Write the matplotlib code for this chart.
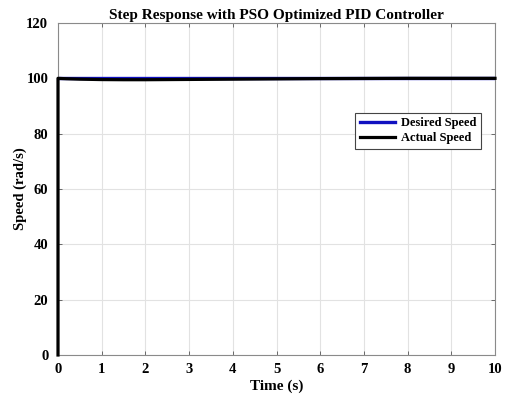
import matplotlib
matplotlib.use("Agg")
import matplotlib.pyplot as plt

# Step response data
time_desired = [0.0, 10.0]
speed_desired = [100.0, 100.0]

time_actual = [0.0, 0.0, 0.05, 0.2, 0.5, 1.0, 1.5, 2.0, 3.0, 4.0, 5.0, 6.0, 7.0, 8.0, 10.0]
speed_actual = [0.0, 100.0, 99.95, 99.85, 99.7, 99.55, 99.5, 99.5, 99.6, 99.7, 99.8, 99.9, 99.95, 100.0, 100.0]

x_ticks = list(range(0, 11))
y_ticks = [0, 20, 40, 60, 80, 100, 120]

plt.rcParams["font.family"] = ["Liberation Serif", "DejaVu Serif"]
plt.rcParams["font.weight"] = "bold"

fig = plt.figure(figsize=(5.05, 3.94), dpi=100)
ax = fig.add_axes([58 / 505, 1 - 355 / 394, (495 - 58) / 505, (355 - 23) / 394])

ax.plot(time_desired, speed_desired, color="#1010c0", lw=2.4, label="Desired Speed")
ax.plot(time_actual, speed_actual, color="black", lw=2.3, label="Actual Speed",
        clip_on=False, zorder=3)

ax.set_xlim(0, 10)
ax.set_ylim(0, 120)
ax.set_xticks(x_ticks)
ax.set_yticks(y_ticks)
ax.grid(True, color="#e2e2e2", lw=0.8)
ax.set_axisbelow(True)
ax.tick_params(direction="in", top=True, right=True, length=3, width=0.6,
               color="#555555", labelsize=10.5)
ax.tick_params(axis="x", pad=6)
ax.tick_params(axis="y", pad=7)
for lbl in ax.get_xticklabels() + ax.get_yticklabels():
    lbl.set_fontweight("bold")
for s in ax.spines.values():
    s.set_color("#8a8a8a")
    s.set_linewidth(0.8)

ax.set_title("Step Response with PSO Optimized PID Controller",
             fontsize=11, fontweight="bold", pad=3)
ax.set_xlabel("Time (s)", fontsize=11, fontweight="bold", labelpad=2)
ax.set_ylabel("Speed (rad/s)", fontsize=10.5, fontweight="bold")
ax.yaxis.set_label_coords(-0.072, 0.5)

leg = ax.legend(loc="upper left", bbox_to_anchor=(0.666, 0.748),
                prop={"weight": "bold", "size": 9}, handlelength=2.8,
                borderpad=0.35, labelspacing=0.25, handletextpad=0.5,
                fancybox=False, framealpha=1)
leg.get_frame().set_edgecolor("#444444")
leg.get_frame().set_linewidth(0.8)

fig.savefig("out.png", dpi=100)
